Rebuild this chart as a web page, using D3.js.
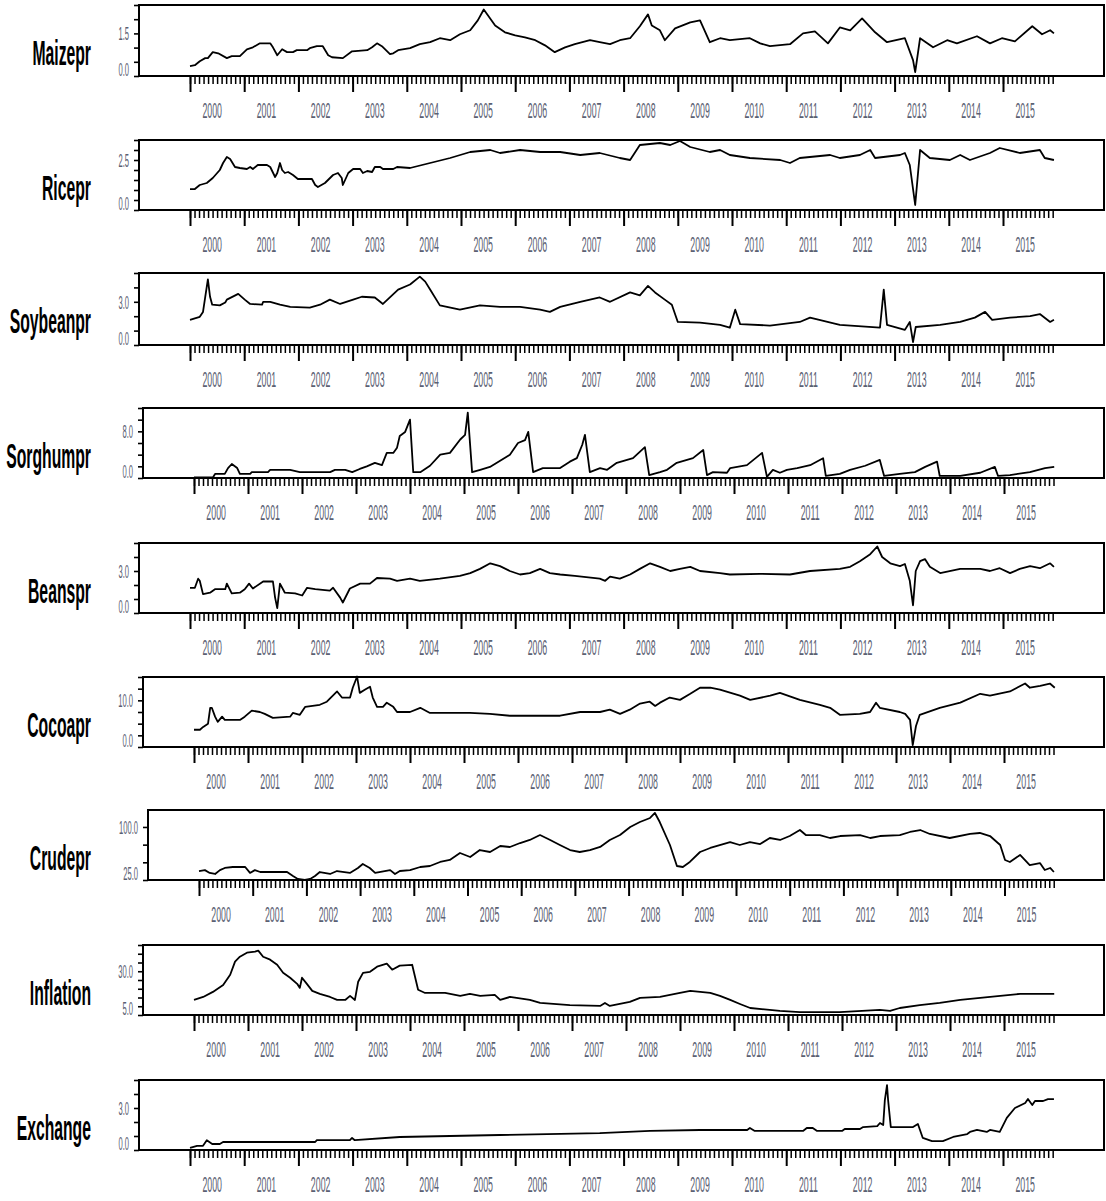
<!DOCTYPE html>
<html><head><meta charset="utf-8">
<script src="https://cdn.jsdelivr.net/npm/d3@7"></script>
<style>body{margin:0;background:#fff}svg{display:block}</style>
</head><body><svg id="chart" width="1106" height="1201"></svg>
<script>
// ---------- DATA ----------
const seriesNames = ["Maizepr","Ricepr","Soybeanpr","Sorghumpr","Beanspr","Cocoapr","Crudepr","Inflation","Exchange"];
const yearLabels = ["2000","2001","2002","2003","2004","2005","2006","2007","2008","2009","2010","2011","2012","2013","2014","2015"];
const yDomains = [[0,2.5],[0,3.5],[0,5],[0,12],[0,5],[0,15],[25,124],[5,45],[0,5]];
const yTickSteps = [0.5,0.5,1,2,1,2.5,25,5,1];
const yTickLabels = [[0,1.5],[0,2.5],[0,3],[0,8],[0,3],[0,10],[25,100],[5,30],[0,3]];

const maizepr = [[2000.0,0.35],[2000.09,0.38],[2000.18,0.52],[2000.28,0.63],[2000.33,0.63],[2000.42,0.84],[2000.52,0.80],[2000.68,0.63],[2000.77,0.70],[2000.92,0.70],[2001.05,0.94],[2001.16,1.01],[2001.29,1.15],[2001.48,1.15],[2001.53,1.01],[2001.61,0.73],[2001.70,0.94],[2001.79,0.84],[2001.90,0.84],[2001.97,0.91],[2002.16,0.91],[2002.21,0.98],[2002.34,1.05],[2002.45,1.05],[2002.55,0.73],[2002.62,0.66],[2002.82,0.63],[2002.99,0.87],[2003.27,0.91],[2003.36,1.01],[2003.45,1.15],[2003.54,1.05],[2003.69,0.77],[2003.75,0.80],[2003.84,0.91],[2004.06,0.98],[2004.24,1.12],[2004.43,1.19],[2004.61,1.33],[2004.8,1.26],[2004.98,1.47],[2005.17,1.61],[2005.31,1.96],[2005.42,2.34],[2005.63,1.78],[2005.81,1.54],[2006.0,1.43],[2006.18,1.36],[2006.37,1.26],[2006.55,1.08],[2006.73,0.84],[2006.92,1.01],[2007.1,1.12],[2007.38,1.26],[2007.56,1.19],[2007.75,1.12],[2007.93,1.26],[2008.12,1.33],[2008.3,1.75],[2008.45,2.17],[2008.52,1.78],[2008.67,1.61],[2008.76,1.26],[2008.95,1.68],[2009.23,1.89],[2009.41,1.96],[2009.59,1.19],[2009.78,1.33],[2009.96,1.26],[2010.33,1.33],[2010.52,1.15],[2010.70,1.05],[2011.07,1.12],[2011.31,1.50],[2011.53,1.57],[2011.77,1.15],[2011.99,1.71],[2012.18,1.61],[2012.40,2.03],[2012.64,1.54],[2012.86,1.19],[2013.19,1.33],[2013.34,0.56],[2013.38,0.14],[2013.47,1.33],[2013.71,1.01],[2013.97,1.26],[2014.15,1.15],[2014.52,1.40],[2014.76,1.15],[2014.98,1.33],[2015.22,1.22],[2015.54,1.75],[2015.72,1.47],[2015.87,1.61],[2015.94,1.50]];

const ricepr = [[2000.0,1.04],[2000.09,1.05],[2000.18,1.25],[2000.31,1.35],[2000.42,1.6],[2000.55,2.0],[2000.61,2.35],[2000.68,2.65],[2000.74,2.55],[2000.83,2.15],[2000.92,2.1],[2001.05,2.05],[2001.11,2.15],[2001.16,2.05],[2001.25,2.25],[2001.42,2.25],[2001.48,2.15],[2001.57,1.65],[2001.61,1.85],[2001.66,2.35],[2001.70,2.0],[2001.75,1.85],[2001.81,1.9],[2001.90,1.75],[2001.99,1.55],[2002.25,1.55],[2002.31,1.25],[2002.36,1.15],[2002.49,1.35],[2002.64,1.75],[2002.73,1.85],[2002.80,1.6],[2002.82,1.25],[2002.92,1.85],[2003.01,2.05],[2003.14,2.05],[2003.19,1.85],[2003.27,1.95],[2003.36,1.9],[2003.41,2.15],[2003.51,2.15],[2003.56,2.05],[2003.75,2.05],[2003.82,2.15],[2004.06,2.1],[2004.43,2.35],[2004.8,2.6],[2005.17,2.9],[2005.54,3.0],[2005.72,2.85],[2006.09,3.0],[2006.46,2.9],[2006.83,2.9],[2007.2,2.75],[2007.56,2.85],[2007.93,2.6],[2008.12,2.5],[2008.3,3.25],[2008.67,3.35],[2008.86,3.25],[2009.04,3.45],[2009.23,3.15],[2009.59,2.9],[2009.78,3.0],[2009.96,2.75],[2010.33,2.6],[2010.89,2.5],[2011.07,2.35],[2011.25,2.6],[2011.81,2.75],[2011.99,2.6],[2012.36,2.75],[2012.55,3.0],[2012.64,2.6],[2013.1,2.75],[2013.19,2.85],[2013.28,2.25],[2013.38,0.25],[2013.47,3.0],[2013.65,2.6],[2014.02,2.5],[2014.21,2.75],[2014.39,2.5],[2014.76,2.85],[2014.94,3.1],[2015.31,2.85],[2015.68,3.0],[2015.77,2.6],[2015.94,2.5]];

const soybeanpr = [[2000.0,1.75],[2000.18,1.96],[2000.24,2.3],[2000.28,3.3],[2000.33,4.55],[2000.37,3.35],[2000.41,2.8],[2000.55,2.75],[2000.65,2.95],[2000.68,3.15],[2000.89,3.55],[2001.01,3.15],[2001.11,2.85],[2001.33,2.8],[2001.35,3.0],[2001.48,3.0],[2001.66,2.8],[2001.85,2.65],[2002.21,2.6],[2002.4,2.8],[2002.58,3.15],[2002.77,2.85],[2003.01,3.15],[2003.17,3.35],[2003.41,3.3],[2003.56,2.85],[2003.84,3.85],[2004.06,4.2],[2004.24,4.75],[2004.34,4.4],[2004.43,3.85],[2004.61,2.75],[2004.98,2.45],[2005.35,2.75],[2005.72,2.65],[2006.09,2.65],[2006.46,2.45],[2006.64,2.3],[2006.83,2.65],[2007.2,3.0],[2007.56,3.3],[2007.75,3.0],[2008.12,3.65],[2008.3,3.45],[2008.45,4.1],[2008.58,3.65],[2008.76,3.15],[2008.89,2.8],[2009.0,1.6],[2009.41,1.55],[2009.78,1.4],[2009.96,1.2],[2010.06,2.45],[2010.15,1.45],[2010.70,1.35],[2011.25,1.6],[2011.44,1.9],[2011.99,1.4],[2012.73,1.2],[2012.80,3.85],[2012.86,1.4],[2013.19,1.05],[2013.28,1.6],[2013.34,0.2],[2013.39,1.25],[2013.84,1.4],[2014.21,1.6],[2014.48,1.9],[2014.67,2.3],[2014.80,1.75],[2015.13,1.9],[2015.5,2.0],[2015.68,2.15],[2015.87,1.6],[2015.94,1.75]];

const sorghumpr = [[2000.0,0.1],[2000.35,0.1],[2000.39,0.7],[2000.57,0.7],[2000.63,1.7],[2000.7,2.4],[2000.8,1.7],[2000.85,0.7],[2001.04,0.7],[2001.07,1.0],[2001.37,1.0],[2001.41,1.4],[2001.78,1.4],[2001.96,1.0],[2002.52,1.0],[2002.61,1.4],[2002.8,1.4],[2002.93,1.0],[2003.07,1.55],[2003.2,2.0],[2003.35,2.6],[2003.48,2.2],[2003.57,4.3],[2003.69,4.3],[2003.76,5.2],[2003.81,7.2],[2003.91,7.9],[2004.0,10.0],[2004.06,1.0],[2004.19,1.0],[2004.37,2.1],[2004.56,4.0],[2004.74,4.3],[2004.93,6.6],[2005.02,7.4],[2005.07,11.2],[2005.15,1.0],[2005.3,1.4],[2005.48,1.9],[2005.85,4.0],[2006.0,6.0],[2006.13,6.5],[2006.19,7.9],[2006.28,1.0],[2006.46,1.7],[2006.78,1.7],[2006.96,2.8],[2007.09,3.4],[2007.19,5.7],[2007.24,7.4],[2007.33,1.0],[2007.52,1.7],[2007.65,1.4],[2007.83,2.6],[2008.13,3.4],[2008.35,5.3],[2008.43,0.5],[2008.63,1.0],[2008.76,1.4],[2008.94,2.6],[2009.24,3.4],[2009.43,4.8],[2009.5,0.5],[2009.61,1.0],[2009.87,0.9],[2009.93,1.7],[2010.24,2.2],[2010.52,4.3],[2010.61,0.2],[2010.72,1.4],[2010.85,0.9],[2010.98,1.4],[2011.17,1.7],[2011.41,2.2],[2011.65,3.4],[2011.7,0.35],[2011.96,0.7],[2012.15,1.4],[2012.43,2.1],[2012.7,3.1],[2012.78,0.35],[2013.07,0.7],[2013.35,1.0],[2013.54,1.9],[2013.76,2.8],[2013.81,0.35],[2014.19,0.35],[2014.56,0.9],[2014.83,1.9],[2014.89,0.35],[2015.11,0.5],[2015.48,1.0],[2015.76,1.7],[2015.93,1.9]];

const beanspr = [[2000.0,1.8],[2000.09,1.8],[2000.15,2.45],[2000.18,2.3],[2000.24,1.35],[2000.37,1.45],[2000.46,1.7],[2000.65,1.7],[2000.68,2.1],[2000.77,1.4],[2000.92,1.45],[2001.01,1.7],[2001.09,2.1],[2001.16,1.75],[2001.35,2.25],[2001.53,2.25],[2001.57,1.1],[2001.61,0.35],[2001.66,2.1],[2001.75,1.45],[2001.94,1.4],[2002.07,1.25],[2002.16,1.8],[2002.31,1.7],[2002.58,1.6],[2002.64,1.8],[2002.77,1.1],[2002.82,0.75],[2002.95,1.75],[2003.14,2.1],[2003.32,2.1],[2003.45,2.5],[2003.69,2.45],[2003.82,2.3],[2004.06,2.45],[2004.24,2.3],[2004.61,2.45],[2004.98,2.65],[2005.17,2.85],[2005.35,3.15],[2005.54,3.55],[2005.72,3.35],[2005.9,3.0],[2006.09,2.75],[2006.27,2.85],[2006.46,3.15],[2006.64,2.85],[2006.83,2.75],[2007.1,2.65],[2007.56,2.45],[2007.66,2.3],[2007.75,2.6],[2007.93,2.45],[2008.12,2.75],[2008.3,3.15],[2008.49,3.55],[2008.67,3.3],[2008.86,3.0],[2009.04,3.15],[2009.23,3.3],[2009.41,3.0],[2009.78,2.85],[2009.96,2.75],[2010.52,2.8],[2011.07,2.75],[2011.44,3.0],[2011.99,3.15],[2012.18,3.3],[2012.36,3.7],[2012.55,4.2],[2012.68,4.75],[2012.77,4.0],[2012.92,3.55],[2013.1,3.35],[2013.19,3.5],[2013.28,2.3],[2013.34,0.55],[2013.39,3.0],[2013.47,3.7],[2013.56,3.85],[2013.65,3.3],[2013.84,2.85],[2014.21,3.15],[2014.58,3.15],[2014.76,3.0],[2014.94,3.2],[2015.13,2.85],[2015.31,3.15],[2015.5,3.35],[2015.68,3.2],[2015.87,3.55],[2015.94,3.3]];

const cocoapr = [[2000.0,3.7],[2000.11,3.7],[2000.17,4.3],[2000.26,5.0],[2000.3,8.4],[2000.33,8.4],[2000.39,6.5],[2000.44,5.4],[2000.52,6.5],[2000.57,5.8],[2000.85,5.8],[2000.94,6.5],[2001.07,7.8],[2001.22,7.5],[2001.31,7.1],[2001.46,6.25],[2001.78,6.5],[2001.83,7.3],[2001.96,6.9],[2002.06,8.6],[2002.33,9.05],[2002.46,9.7],[2002.65,11.9],[2002.74,10.6],[2002.89,10.6],[2002.94,12.7],[2003.02,15.1],[2003.07,11.6],[2003.17,12.3],[2003.26,12.9],[2003.31,10.6],[2003.39,8.6],[2003.5,8.6],[2003.57,9.5],[2003.69,8.6],[2003.76,7.5],[2004.0,7.5],[2004.19,8.4],[2004.37,7.3],[2004.74,7.3],[2005.11,7.3],[2005.48,7.1],[2005.85,6.7],[2006.78,6.7],[2007.15,7.5],[2007.52,7.5],[2007.7,8.0],[2007.89,7.1],[2008.07,8.0],[2008.26,9.3],[2008.44,9.7],[2008.54,8.8],[2008.63,9.5],[2008.81,10.6],[2009.0,10.1],[2009.19,11.4],[2009.37,12.7],[2009.56,12.7],[2009.74,12.3],[2010.11,11.0],[2010.3,10.1],[2010.67,11.0],[2010.85,11.6],[2011.22,10.1],[2011.59,9.05],[2011.78,8.4],[2011.96,6.9],[2012.33,7.1],[2012.52,7.5],[2012.63,9.5],[2012.7,8.4],[2013.07,7.5],[2013.17,7.1],[2013.26,5.8],[2013.31,0.4],[2013.37,4.5],[2013.44,6.9],[2013.81,8.4],[2014.19,9.5],[2014.56,11.4],[2014.74,11.0],[2015.11,11.9],[2015.39,13.6],[2015.48,12.7],[2015.67,13.1],[2015.85,13.6],[2015.94,12.7]];

const crudepr = [[2000.0,37.7],[2000.11,39],[2000.2,35],[2000.3,33.5],[2000.39,39],[2000.48,42],[2000.63,43.4],[2000.86,43.4],[2000.95,35],[2001.04,39],[2001.14,36.3],[2001.64,36.3],[2001.75,30.7],[2001.84,26.4],[2001.97,25],[2002.07,26.4],[2002.16,30.7],[2002.25,36.3],[2002.44,33.5],[2002.57,37.7],[2002.81,35],[2002.96,42],[2003.05,47.6],[2003.18,42],[2003.28,35],[2003.56,39],[2003.65,33.5],[2003.74,37.7],[2003.93,39],[2004.12,43.4],[2004.3,44.8],[2004.49,50.5],[2004.67,53.3],[2004.86,63.2],[2005.05,57.5],[2005.23,67.4],[2005.42,64.6],[2005.61,73.1],[2005.79,71.7],[2005.98,77.3],[2006.16,81.6],[2006.35,88.6],[2006.54,81.6],[2006.72,74.5],[2006.91,67.4],[2007.09,64.6],[2007.28,67.4],[2007.47,71.7],[2007.65,81.6],[2007.84,88.6],[2008.03,100],[2008.21,107],[2008.4,112.7],[2008.49,119.8],[2008.58,107],[2008.77,74.5],[2008.9,44.8],[2009.01,43.4],[2009.14,50.5],[2009.33,64.6],[2009.52,70.3],[2009.89,78.7],[2010.07,74.5],[2010.26,78.7],[2010.45,75.9],[2010.63,84.4],[2010.82,81.6],[2011.0,87.2],[2011.19,95.7],[2011.3,88.6],[2011.56,88.6],[2011.75,84.4],[2011.94,87.2],[2012.31,88.6],[2012.5,84.4],[2012.68,87.2],[2013.05,88.6],[2013.24,92.9],[2013.43,95.7],[2013.61,90.1],[2013.98,84.4],[2014.36,90.1],[2014.54,91.5],[2014.73,87.2],[2014.92,74.5],[2015.01,53.3],[2015.1,50.5],[2015.29,60.4],[2015.47,46.2],[2015.66,49],[2015.75,39.1],[2015.85,42],[2015.92,36.3]];

const inflation = [[2000.0,13.6],[2000.17,15.3],[2000.35,18.2],[2000.54,22.2],[2000.67,28],[2000.76,35.5],[2000.85,38.3],[2000.98,40.6],[2001.13,41.2],[2001.19,41.8],[2001.28,38.3],[2001.41,36.6],[2001.54,33.7],[2001.65,29.1],[2001.78,26.3],[2001.91,22.8],[2001.96,20.5],[2002.0,26.3],[2002.09,22.8],[2002.19,18.8],[2002.33,17.1],[2002.52,15.3],[2002.65,13.6],[2002.8,13.6],[2002.89,15.9],[2002.98,13.6],[2003.04,24],[2003.13,29.1],[2003.26,29.7],[2003.39,32.6],[2003.57,34.3],[2003.67,30.9],[2003.81,33.2],[2004.04,33.7],[2004.15,19.4],[2004.28,17.6],[2004.65,17.6],[2004.93,15.9],[2005.11,17.1],[2005.3,15.9],[2005.57,16.5],[2005.67,13.6],[2005.85,15.3],[2006.22,13.6],[2006.41,11.9],[2006.96,10.7],[2007.52,10.2],[2007.61,11.9],[2007.7,10.2],[2008.07,12.5],[2008.26,14.8],[2008.63,15.3],[2009.0,17.6],[2009.19,18.8],[2009.56,17.6],[2009.74,15.9],[2009.93,13.6],[2010.11,11.3],[2010.3,9.0],[2010.85,7.3],[2011.22,6.7],[2011.96,6.7],[2012.7,7.9],[2012.89,7.3],[2013.07,9.0],[2013.44,10.7],[2013.81,11.9],[2014.19,13.6],[2014.56,14.8],[2014.93,15.9],[2015.3,17.1],[2015.93,17.1]];

const exchange = [[2000.0,0.15],[2000.13,0.3],[2000.24,0.3],[2000.31,0.7],[2000.41,0.43],[2000.55,0.43],[2000.61,0.57],[2002.31,0.57],[2002.34,0.7],[2002.95,0.7],[2002.99,0.86],[2003.04,0.7],[2003.87,0.93],[2005.72,1.07],[2007.56,1.2],[2008.49,1.36],[2009.41,1.43],[2010.28,1.43],[2010.33,1.57],[2010.42,1.36],[2011.31,1.36],[2011.38,1.57],[2011.49,1.57],[2011.57,1.36],[2012.03,1.36],[2012.08,1.5],[2012.36,1.5],[2012.42,1.64],[2012.68,1.71],[2012.73,1.93],[2012.79,1.79],[2012.82,3.57],[2012.86,4.64],[2012.88,3.57],[2012.93,1.64],[2013.34,1.64],[2013.43,1.86],[2013.52,0.86],[2013.69,0.64],[2013.89,0.64],[2014.08,0.93],[2014.34,1.14],[2014.39,1.29],[2014.52,1.43],[2014.7,1.29],[2014.76,1.43],[2014.94,1.29],[2015.07,2.29],[2015.22,3.0],[2015.41,3.36],[2015.46,3.64],[2015.54,3.21],[2015.59,3.5],[2015.74,3.5],[2015.83,3.64],[2015.94,3.64]];

const seriesData = [maizepr, ricepr, soybeanpr, sorghumpr, beanspr, cocoapr, crudepr, inflation, exchange];

// ---------- LAYOUT ----------
const panelTop    = [5,140,273,408,543,677,810,945,1080];
const panelBottom = [76,210,345,478,613,747,880,1015,1150];
const panelLeft   = [139,139,139,143,139,143,148,143,139];
const axisStart   = [190,190,190,194,190,194,199,194,190];
const yearWidth   = [54.2,54.2,54.2,54,54.2,54,53.7,54,54.2];
const panelRight = 1104;
const months = d3.range(0, 192).map(m => 2000 + m / 12);
const years = yearLabels.map(Number);

const svg = d3.select("#chart");
const FONT = "'Liberation Sans', Arial, sans-serif";

seriesNames.forEach((name, i) => {
  const top = panelTop[i], bottom = panelBottom[i], left = panelLeft[i];
  const x = d3.scaleLinear().domain([2000, 2016]).range([axisStart[i], axisStart[i] + 16 * yearWidth[i]]);
  const y = d3.scaleLinear().domain(yDomains[i]).range([bottom, top]);
  const g = svg.append("g");

  const [d0, d1] = yDomains[i];
  const yt = d3.range(d0, d1 + 1e-9, yTickSteps[i]);
  const ya = g.append("g").attr("transform", `translate(${left},0)`)
    .call(d3.axisLeft(y).tickValues(yt).tickSize(5).tickFormat(""));
  ya.select(".domain").remove();
  ya.selectAll(".tick line").attr("stroke", "#000").attr("stroke-width", 1.6);

  yTickLabels[i].forEach((v, k) => {
    let cy = y(v);
    if (k === 0) cy = bottom - 7;
    g.append("text")
      .attr("transform", `translate(${left - 10},${cy + 7}) scale(0.4,1)`)
      .attr("text-anchor", "end")
      .attr("font-family", FONT).attr("font-size", 19)
      .attr("fill", "#5a6072")
      .text(d3.format(".1f")(v));
  });

  const xm = g.append("g").attr("transform", `translate(0,${bottom})`)
    .call(d3.axisBottom(x).tickValues(months).tickSize(8).tickFormat(""));
  xm.select(".domain").remove();
  xm.selectAll(".tick line").attr("stroke", "#000").attr("stroke-width", 1.5);
  const xM = g.append("g").attr("transform", `translate(0,${bottom})`)
    .call(d3.axisBottom(x).tickValues(years).tickSize(16).tickFormat(""));
  xM.select(".domain").remove();
  xM.selectAll(".tick line").attr("stroke", "#000").attr("stroke-width", 2);

  yearLabels.forEach(lbl => {
    g.append("text")
      .attr("transform", `translate(${x(+lbl + 0.41)},${bottom + 42}) scale(0.4,1)`)
      .attr("text-anchor", "middle")
      .attr("font-family", FONT).attr("font-size", 22)
      .attr("fill", "#5a6072")
      .text(lbl);
  });

  g.append("rect").attr("x", left).attr("y", top)
    .attr("width", panelRight - left).attr("height", bottom - top)
    .attr("fill", "none").attr("stroke", "#000").attr("stroke-width", 2);

  g.append("path").datum(seriesData[i])
    .attr("fill", "none").attr("stroke", "#000").attr("stroke-width", 1.8)
    .attr("stroke-linejoin", "round")
    .attr("d", d3.line().x(d => x(d[0])).y(d => y(d[1])));

  g.append("text")
    .attr("transform", `translate(91,${top + 60}) scale(0.45,1)`)
    .attr("text-anchor", "end")
    .attr("font-family", FONT).attr("font-weight", "bold").attr("font-size", 35)
    .attr("fill", "#000")
    .text(name);
});
</script></body></html>
